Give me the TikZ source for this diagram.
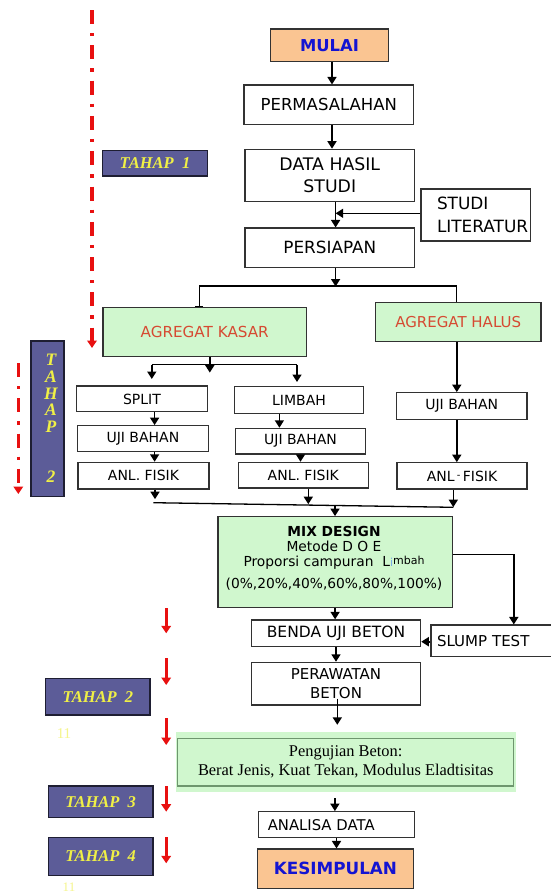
\documentclass[tikz,border=0pt]{standalone}
\usepackage{fontspec}
\setmainfont{DejaVu Sans}
\newfontfamily\tnr{Liberation Serif}
\usetikzlibrary{arrows.meta}
\definecolor{peach}{RGB}{250,197,146}
\definecolor{mulaiblue}{RGB}{20,20,210}
\definecolor{boxline}{RGB}{50,50,50}
\definecolor{lgreen}{RGB}{208,247,206}
\definecolor{agr}{RGB}{214,74,50}
\definecolor{tahapfill}{RGB}{92,92,152}
\definecolor{tahapline}{RGB}{30,30,50}
\definecolor{tahapyellow}{RGB}{240,240,70}
\definecolor{redc}{RGB}{232,16,16}
\definecolor{penggreen}{RGB}{110,150,110}
\definecolor{faintyellow}{RGB}{245,245,140}
\definecolor{limblue}{RGB}{120,170,230}
\begin{document}
\begin{tikzpicture}[x=1pt,y=-1pt,
  box/.style={draw=boxline,line width=1.2pt,fill=white,inner sep=1pt,align=center},
  arr/.style={draw=black,line width=1.6pt,-{Triangle[width=9pt,length=7.5pt]}},
  ln/.style={draw=black,line width=1.3pt},
  tahap/.style={draw=tahapline,line width=1.3pt,fill=tahapfill,text=tahapyellow,
    font=\tnr\fontsize{16.5}{19}\selectfont\bfseries\itshape,inner sep=0pt},
  redarr/.style={draw=redc,line width=3.3pt,-{Triangle[width=9.5pt,length=7.5pt]}},
  reddash/.style={draw=redc,line width=3.3pt,dash pattern=on 14pt off 9pt on 3.3pt off 9pt,
    -{Triangle[width=9.5pt,length=7.5pt]}},
  f14/.style={font=\fontsize{14}{17}\selectfont}]
\useasboundingbox (0,0) rectangle (551,894);
\clip (0,0) rectangle (551,894);
\fill[white] (0,0) rectangle (551,894);

% main column
\node[box,fill=peach,minimum width=117.7pt,minimum height=32.7pt,text=mulaiblue,
  font=\fontsize{16.4}{19}\selectfont\bfseries] (mulai) at (329.5,45.3) {MULAI};
\node[box,minimum width=169.6pt,minimum height=39.3pt,font=\fontsize{16.5}{20}\selectfont]
  (perm) at (328.8,104.7) {PERMASALAHAN};
\node[box,minimum width=169.6pt,minimum height=52.4pt,font=\fontsize{17.3}{21.7}\selectfont]
  (data) at (329.8,175.5) {DATA HASIL\\STUDI};
\node[box,minimum width=109.6pt,minimum height=52pt,text width=77.6pt,inner xsep=16pt,
  align=left,font=\fontsize{16.9}{23.3}\selectfont] (studi) at (475.8,215) {STUDI\\LITERATUR};
\node[box,minimum width=169.6pt,minimum height=39.3pt,font=\fontsize{16.8}{20}\selectfont]
  (pers) at (329.8,247.7) {PERSIAPAN};

\node[box,fill=lgreen,minimum width=203.4pt,minimum height=49pt,text=agr,
  font=\fontsize{15.2}{18}\selectfont] (kasar) at (204.7,332.2) {AGREGAT KASAR};
\node[box,fill=lgreen,minimum width=165.7pt,minimum height=39pt,text=agr,
  font=\fontsize{15}{18}\selectfont] (halus) at (458.2,322.2) {AGREGAT HALUS};

\node[box,f14,minimum width=130.7pt,minimum height=25.7pt] (split) at (142,398.9) {SPLIT};
\node[box,f14,minimum width=131.1pt,minimum height=26pt] (ujiL) at (142.9,438.7) {UJI BAHAN};
\node[box,f14,minimum width=131pt,minimum height=26.7pt] (anlL) at (143.5,475.7) {ANL. FISIK};
\node[box,f14,minimum width=129.3pt,minimum height=26.6pt] (limbah) at (299,400) {LIMBAH};
\node[box,f14,minimum width=130.1pt,minimum height=25.7pt] (ujiM) at (300.5,441.2) {UJI BAHAN};
\node[box,f14,minimum width=130pt,minimum height=25.7pt] (anlM) at (303.3,475.2) {ANL. FISIK};
\node[box,f14,minimum width=130.6pt,minimum height=26.6pt] (ujiR) at (461.7,406) {UJI BAHAN};
\node[box,f14,minimum width=130pt,minimum height=26.3pt] (anlR) at (462,475.9)
  {ANL\,\raisebox{3pt}{\fontsize{10}{10}\selectfont -}\,FISIK};

\node[box,fill=lgreen,minimum width=234.4pt,minimum height=91pt] (mix) at (335.1,562.2) {};
\node[anchor=north,align=center,inner sep=0pt,font=\fontsize{13.8}{15}\selectfont]
  (mixtxt) at (334,526) {{\bfseries MIX DESIGN}\\Metode D O E\\
  Proporsi campuran~ L{\color{limblue}\fontsize{11}{11}\selectfont i}\raisebox{1.5pt}{\fontsize{11}{11}\selectfont mbah}\\[6.7pt]
  (0\%,20\%,40\%,60\%,80\%,100\%)};

\node[box,minimum width=122pt,minimum height=31.7pt,text width=110pt,inner xsep=6pt,
  align=left,font=\fontsize{15}{18}\selectfont] (slump) at (492,640.9) {SLUMP TEST};
\node[box,minimum width=169.3pt,minimum height=26.7pt,font=\fontsize{15.5}{18}\selectfont]
  (benda) at (336,633.3) {BENDA UJI BETON};
\node[box,minimum width=169.3pt,minimum height=42.7pt,font=\fontsize{15}{18.4}\selectfont]
  (peraw) at (336,683.7) {PERAWATAN\\BETON};

\node[fill=lgreen,minimum width=340.2pt,minimum height=60pt,inner sep=0pt] (pengglow) at (345.8,761.7) {};
\node[draw=penggreen,line width=1.2pt,fill=lgreen,minimum width=336.3pt,minimum height=47.7pt,
  inner sep=0pt,align=center,font=\tnr\fontsize{16.4}{19}\selectfont] (peng) at (345.7,762.2)
  {Pengujian Beton:\\Berat Jenis, Kuat Tekan, Modulus Eladtisitas};

\node[box,minimum width=156.3pt,minimum height=26pt,text width=137.3pt,inner xsep=9.5pt,
  align=left,font=\fontsize{14.8}{18}\selectfont] (analisa) at (336.5,824.7) {ANALISA DATA};
\node[box,fill=peach,minimum width=156.4pt,minimum height=39.3pt,text=mulaiblue,
  font=\fontsize{16.8}{19}\selectfont\bfseries] (kes) at (335.4,868.7) {KESIMPULAN};

% tahap labels
\node[tahap,minimum width=104.7pt,minimum height=25.3pt] (tahap1) at (155,163.3) {TAHAP~~1};
\node[tahap,minimum width=33pt,minimum height=155.7pt] (tahap2v) at (47.5,418.8) {};
\node[anchor=north,align=center,inner sep=0pt,text=tahapyellow,
  font=\tnr\fontsize{17.5}{16.7}\selectfont\bfseries\itshape] (tahap2vtxt) at (51,354)
  {T\\A\\H\\A\\P\\[33.4pt]2};
\node[tahap,minimum width=104.3pt,minimum height=36.7pt] (tahap2) at (97.9,696.7) {TAHAP~~2};
\node[tahap,minimum width=104.4pt,minimum height=31.7pt] (tahap3) at (100.7,801.8) {TAHAP~~3};
\node[tahap,minimum width=104.4pt,minimum height=38.4pt] (tahap4) at (100.7,856.5) {TAHAP~~4};
\node[text=faintyellow,font=\tnr\fontsize{15}{15}\selectfont] (eleven1) at (64,734) {11};
\node[text=faintyellow,font=\tnr\fontsize{13}{13}\selectfont,inner sep=0pt] (eleven2) at (69,887) {11};

% connectors, main column
\draw[arr] ([xshift=2.5pt]mulai.south) -- ([xshift=2.5pt]mulai.south |- perm.north);
\draw[arr] ([xshift=3.2pt]perm.south) -- ([xshift=3.2pt]perm.south |- data.north);
\draw[arr] ([xshift=5.8pt]data.south) -- ([xshift=5.8pt]data.south |- pers.north);
\draw[arr,line width=1.3pt] ([yshift=1.7pt]studi.west) -- ([xshift=5.8pt,yshift=1.7pt]studi.west -| pers.north);

\coordinate (sp) at (335.6,286.5);
\coordinate (spL) at (199.2,286);
\coordinate (spR) at (456.8,286);
\draw[arr] ([xshift=5.8pt]pers.south) -- (sp);
\draw[ln] (spL) -- (spR);
\draw[ln,-{Bar[width=8pt]}] (spL) -- (spL |- kasar.north);
\draw[ln] (spR) -- (spR |- halus.north);

\coordinate (jL) at (151.8,364.5);
\coordinate (jR) at (297,364.5);
\draw[arr] ([xshift=5.1pt]kasar.south) -- ++(0,15.3);
\draw[ln] (jL) -- (jR);
\draw[arr] (jL) -- ++(0,14.5);
\draw[arr] (jR) -- ++(0,17.5);

\draw[arr] ([xshift=12.6pt]split.south) -- ([xshift=12.6pt]split.south |- ujiL.north);
\draw[arr] ([xshift=11.7pt]ujiL.south) -- ([xshift=11.7pt]ujiL.south |- anlL.north);
\draw[arr] ([xshift=-19.6pt]limbah.south) -- ([xshift=-19.6pt]limbah.south |- ujiM.north);
\draw[arr] (ujiM.south) -- (ujiM.south |- anlM.north);
\draw[arr] ([xshift=-1.4pt]halus.south) -- ([xshift=-1.4pt]halus.south |- ujiR.north);
\draw[arr] ([xshift=-4.9pt]ujiR.south) -- ([xshift=-4.9pt]ujiR.south |- anlR.north);

\coordinate (cvL) at (153.3,502.7);
\coordinate (cvR) at (453.3,507.3);
\coordinate (cvM) at (335,505);
\draw[ln] (cvL) -- (cvR);
\draw[arr] ([xshift=11.5pt]anlL.south) -- ++(0,9.5);
\draw[arr] ([xshift=5pt]anlM.south) -- ++(0,15.5);
\draw[arr] ([xshift=-8.7pt]anlR.south) -- ++(0,17.5);
\draw[arr] (cvM) -- (cvM |- mix.north);

\coordinate (mixR) at (513.8,554.3);
\draw[arr] (mix.east |- mixR) -- (mixR) -- (mixR |- slump.north);
\draw[arr] ([yshift=-0.8pt]slump.west) -- ([yshift=-0.8pt]slump.west -| benda.east);
\draw[arr] (mix.south) -- (mix.south |- benda.north);
\draw[arr] (benda.south) -- (benda.south |- peraw.north);
\draw[arr] ([xshift=1.3pt,yshift=7pt]peraw.south) -- ([xshift=1.3pt,yshift=6.7pt]peraw.south |- pengglow.north);
\draw[arr] ([xshift=-10.9pt,yshift=-6.3pt]pengglow.south) -- ([xshift=-10.9pt]pengglow.south |- analisa.north);
\draw[arr] (analisa.south) -- (analisa.south |- kes.north);

% red markers
\coordinate (rd1a) at (92,10);
\coordinate (rd1b) at (92,348);
\coordinate (rd2a) at (18.3,363);
\coordinate (rd2b) at (18.3,494);
\draw[reddash] (rd1a) -- (rd1b);
\draw[reddash] (rd2a) -- (rd2b);
\coordinate (ra1) at (166.2,608.3); \coordinate (rb1) at (166.2,633.3);
\coordinate (ra2) at (166.2,658.3); \coordinate (rb2) at (166.2,685);
\coordinate (ra3) at (166.2,718.3); \coordinate (rb3) at (166.2,745);
\coordinate (ra4) at (166.2,786);   \coordinate (rb4) at (166.2,811.7);
\coordinate (ra5) at (166.2,837);   \coordinate (rb5) at (166.2,863.3);
\draw[redarr] (ra1) -- (rb1);
\draw[redarr] (ra2) -- (rb2);
\draw[redarr] (ra3) -- (rb3);
\draw[redarr] (ra4) -- (rb4);
\draw[redarr] (ra5) -- (rb5);
\end{tikzpicture}
\end{document}
